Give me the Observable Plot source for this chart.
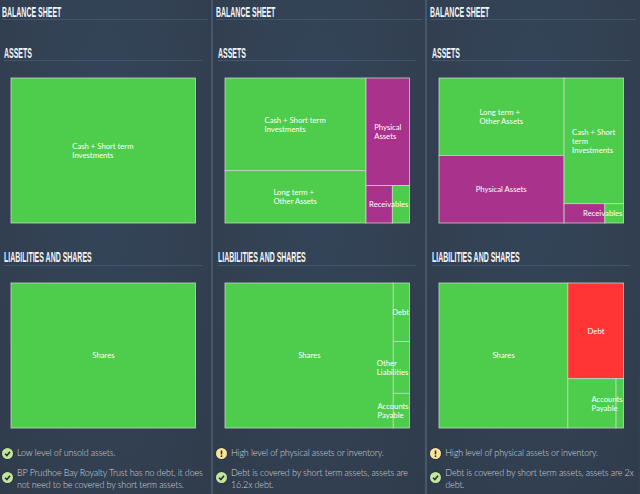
<!DOCTYPE html>
<html><head><meta charset="utf-8">
<script src="https://cdn.jsdelivr.net/npm/d3@7"></script>
<script src="https://cdn.jsdelivr.net/npm/@observablehq/plot@0.6"></script>
<style>
html,body{margin:0;padding:0;width:640px;height:494px;overflow:hidden;background:#323f50;}
#page{position:relative;width:640px;height:494px;overflow:hidden;}
.panel{position:absolute;top:0;width:212px;height:494px;background:radial-gradient(ellipse at 50% 30%,#34465b 0%,#323f50 70%,#303c4c 100%);}
.divider{position:absolute;top:0;width:2px;height:494px;background:#47566a;}
.h{position:absolute;color:#f4f6f8;font:bold 15.5px/16px "Liberation Sans Narrow","Liberation Sans",sans-serif;transform-origin:0 0;transform:scaleX(.45);white-space:nowrap;letter-spacing:0;}
.rule{position:absolute;height:1px;background:#41566e;}
.chart{position:absolute;}
.chart svg{display:block;overflow:visible;}
.note{position:absolute;left:17px;width:192px;color:#ced4db;font:300 9px/11.5px Lato,sans-serif;letter-spacing:-.15px;}
.icon{position:absolute;left:2px;width:11px;height:11px;border-radius:50%;box-shadow:0 0 0 .6px #1f2a36;}
.icon svg{display:block;width:11px;height:11px;}
</style></head><body><div id="page"></div>
<script>
const headingMain = "BALANCE SHEET";
const headingAssets = "ASSETS";
const headingLiabilities = "LIABILITIES AND SHARES";

// Tiles: [label, share, status]; nested lists are grouped tiles.
const assets1 = [[["Cash + Short term\nInvestments", 100, "ok"]]];
const liabilities1 = [[["Shares", 100, "ok"]]];

const assets2 = [
  [["Cash + Short term\nInvestments", 48.8, "ok"], ["Long term +\nOther Assets", 27.6, "ok"]],
  [["Physical\nAssets", 17.5, "warn"], [["Receivables", 3.7, "warn"], ["", 2.4, "ok"]]]
];
const liabilities2 = [
  [["Shares", 91.2, "ok"]],
  [["Debt", 3.55, "ok"], ["Other\nLiabilities", 3.14, "ok"], ["Accounts\nPayable", 2.1, "ok"]]
];

const assets3 = [
  [["Long term +\nOther Assets", 36.2, "ok"], ["Physical Assets", 31.6, "warn"]],
  [["Cash + Short\nterm\nInvestments", 27.9, "ok"], [["Receivables", 2.95, "warn"], ["", 1.35, "ok"]]]
];
const liabilities3 = [
  [["Shares", 69.8, "ok"]],
  [["Debt", 19.9, "bad"], [["Accounts\nPayable", 8.9, "ok"], ["", 1.37, "ok"]]]
];

const statusNames = ["ok", "warn", "bad"];
const statusColors = ["#4dcd4b", "#a9328d", "#ff3535"];

const notes1 = [["ok", "Low level of unsold assets."], ["ok", "BP Prudhoe Bay Royalty Trust has no debt, it does not need to be covered by short term assets."]];
const notes2 = [["warn", "High level of physical assets or inventory."], ["ok", "Debt is covered by short term assets, assets are 16.2x debt."]];
const notes3 = [["warn", "High level of physical assets or inventory."], ["ok", "Debt is covered by short term assets, assets are 2x debt."]];

const panels = [
  {assets: assets1, liabilities: liabilities1, notes: notes1},
  {assets: assets2, liabilities: liabilities2, notes: notes2},
  {assets: assets3, liabilities: liabilities3, notes: notes3}
];

const page = document.getElementById("page");
const add = (cls, css, text) => {
  const d = document.createElement("div");
  d.className = cls; d.style.cssText = css;
  if (text != null) d.textContent = text;
  page.appendChild(d); return d;
};

const toNode = n => typeof n[0] === "string"
  ? {name: n[0], value: n[1], status: n[2]}
  : {children: n.map(toNode)};

const ctx = document.createElement("canvas").getContext("2d");
const labelFont = "400 7.7px Lato, sans-serif";
ctx.font = labelFont;
const textWidth = s => ctx.measureText(s).width + 0.1 * s.length;

function treemap(list, W, H) {
  const root = d3.hierarchy({children: list.map(toNode)}).sum(d => d.value || 0);
  d3.treemap().size([W, H]).tile(d3.treemapSliceDice).round(false)(root);
  const leaves = root.leaves();
  const labels = [];
  for (const l of leaves) {
    if (!l.data.name) continue;
    const lines = l.data.name.split("\n");
    const w = Math.max(...lines.map(textWidth));
    const narrow = w + 1 > l.x1 - l.x0;
    const x = (narrow || l.depth > 2) ? W - w - 0.5 : (l.x0 + l.x1) / 2 - w / 2;
    const cy = (l.y0 + l.y1) / 2;
    lines.forEach((t, i) => labels.push({t, x, y: cy + (i - (lines.length - 1) / 2) * 9.2}));
  }
  return Plot.plot({
    width: W, height: H,
    margin: 0,
    x: {domain: [0, W], range: [0, W], axis: null},
    y: {domain: [0, H], range: [0, H], axis: null},
    color: {domain: statusNames, range: statusColors},
    style: {background: "transparent"},
    marks: [
      Plot.rect(leaves, {
        x1: "x0", x2: "x1", y1: "y0", y2: "y1",
        fill: d => d.data.status,
        stroke: "#c9dcc4", strokeWidth: 0.9, strokeOpacity: 0.85, inset: 0
      }),
      Plot.text(labels, {
        x: "x", y: "y", text: "t", textAnchor: "start",
        fill: "#ffffff", fontSize: 7.7, fontFamily: "Lato, sans-serif", fontWeight: 400,
        letterSpacing: 0.1
      })
    ]
  });
}

const iconSvg = {
  ok: '<svg viewBox="0 0 10 10"><circle cx="5" cy="5" r="5" fill="#c3e69b"/><path d="M2.8 5.2 4.4 6.8 7.3 3.4" fill="none" stroke="#24313f" stroke-width="1.5"/></svg>',
  warn: '<svg viewBox="0 0 10 10"><circle cx="5" cy="5" r="5" fill="#fbe39a"/><path d="M5 2.3V5.8" stroke="#24313f" stroke-width="1.4"/><circle cx="5" cy="7.4" r=".8" fill="#24313f"/></svg>'
};

panels.forEach((p, i) => {
  const x0 = 214 * i + (i === 2 ? 0.3 : 0);
  add("panel", `left:${x0 - (i ? 2 : 0)}px`);
  if (i) add("divider", `left:${x0 - 3}px`);
  add("h", `left:${x0 + 2}px;top:4px`, headingMain);
  add("rule", `left:${x0 + 2}px;top:19px;width:206px`);
  add("h", `left:${x0 + 4}px;top:45px`, headingAssets);
  add("rule", `left:${x0 + 4}px;top:60px;width:198px`);
  add("h", `left:${x0 + 4}px;top:249px`, headingLiabilities);
  add("rule", `left:${x0 + 4}px;top:265px;width:198px`);
  const a = add("chart", `left:${x0 + 11}px;top:78px`);
  a.appendChild(treemap(p.assets, 184.5, 145));
  const b = add("chart", `left:${x0 + 11}px;top:283px`);
  b.appendChild(treemap(p.liabilities, 184.5, 145));

  add("note", `left:${x0 + 17}px;top:447px`, p.notes[0][1]);
  const i1 = add("icon", `left:${x0 + 2}px;top:447.5px`); i1.innerHTML = iconSvg[p.notes[0][0]];
  add("note", `left:${x0 + 17}px;top:467px`, p.notes[1][1]);
  const i2 = add("icon", `left:${x0 + 2}px;top:472px`); i2.innerHTML = iconSvg[p.notes[1][0]];
});
</script></body></html>
